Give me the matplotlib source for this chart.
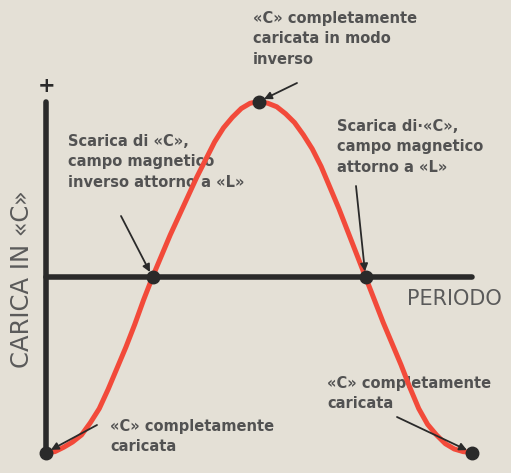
import matplotlib.pyplot as plt

# charge on C over one period (fraction of period -> normalised charge)
period = [k / 48 for k in range(49)]
charge = [-1.00, -0.995, -0.97, -0.94, -0.90, -0.83, -0.75, -0.64, -0.52, -0.40, -0.27, -0.13,
          0.00, 0.12, 0.24, 0.35, 0.46, 0.57, 0.67, 0.77, 0.85, 0.91, 0.96, 0.99,
          1.00, 0.99, 0.97, 0.93, 0.88, 0.81, 0.73, 0.63, 0.51, 0.39, 0.26, 0.13,
          0.00, -0.13, -0.26, -0.38, -0.50, -0.63, -0.75, -0.84, -0.90, -0.95, -0.98, -0.995,
          -1.00]

# marked instants
key_t = [0.0, 0.25, 0.5, 0.75, 1.0]
key_q = [-1.0, 0.0, 1.0, 0.0, -1.0]

notes = [
    "«C» completamente\ncaricata in modo\ninverso",
    "Scarica di «C»,\ncampo magnetico\ninverso attorno a «L»",
    "Scarica di·«C»,\ncampo magnetico\nattorno a «L»",
    "«C» completamente\ncaricata",
    "«C» completamente\ncaricata",
]

BG = '#e4e0d6'
RED = '#f24a3a'
INK = '#2a2a2a'
GREY = '#525252'

W, H = 511, 473
X0, X1, Y0, AMP = 46, 472, 277, 175.5


def px(x, y):
    """pixel position of the drawing -> data coords"""
    return (x - X0) / (X1 - X0), (Y0 - y) / AMP


fig = plt.figure(figsize=(W / 100, H / 100), dpi=100, facecolor=BG)
ax = fig.add_axes([0, 0, 1, 1], facecolor=BG)
ax.set_xlim(px(0, 0)[0], px(W, 0)[0])
ax.set_ylim(px(0, H)[1], px(0, 0)[1])
ax.axis('off')

# a. axes of the diagram
ax.plot([0, 0], [-1.0, px(0, 102)[1]], color=INK, lw=4, solid_capstyle='round', zorder=2)
ax.plot([0, 1.0], [0, 0], color=INK, lw=4, solid_capstyle='round', zorder=2)
ax.text(*px(47, 86), '+', ha='center', va='center', fontsize=15, fontweight='bold', color=INK)

# b. curve and marked points
ax.plot(period, charge, color=RED, lw=3.6, solid_joinstyle='round', solid_capstyle='round', zorder=3)
ax.plot(key_t, key_q, 'o', color=INK, ms=9, zorder=4)

# c. axis labels
ax.text(*px(22, 279), 'CARICA IN «C»', rotation=90, ha='center', va='center',
        fontsize=17.5, color='#5a5a5a')
ax.text(*px(407, 299), 'PERIODO', ha='left', va='center', fontsize=15, color='#5a5a5a')

# d. annotations: text block top-left, arrow tail, arrow target
text_pos = [(253, 11), (68, 134), (337, 119), (327, 376), (110, 419)]
tails = [(297, 83), (121, 216), (356, 186), (397, 417), (97, 425)]
for note, tp, tail, t, q in zip(notes, text_pos, tails, [0.5, 0.25, 0.75, 1.0, 0.0],
                                 [1.0, 0.0, 0.0, -1.0, -1.0]):
    ax.text(*px(*tp), note, ha='left', va='top', fontsize=10.5, fontweight='bold',
            color=GREY, linespacing=1.45, zorder=2)
    ax.annotate('', xy=(t, q), xytext=px(*tail),
                arrowprops=dict(arrowstyle='-|>', color=INK, lw=1.3, mutation_scale=11,
                                shrinkA=0, shrinkB=4), zorder=5)

fig.savefig('out.png', dpi=100, facecolor=BG)
